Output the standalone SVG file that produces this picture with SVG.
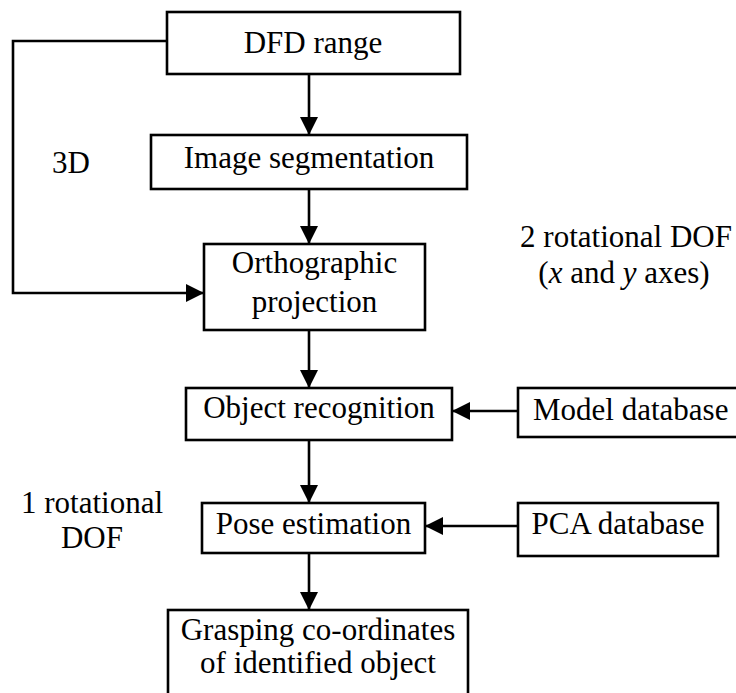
<svg xmlns="http://www.w3.org/2000/svg" width="736" height="693" viewBox="0 0 736 693">
<style>
  .box { fill: #ffffff; stroke: #000000; stroke-width: 2.6; }
  .t { font-family: 'Liberation Serif', Tinos, 'Times New Roman', Times, 'DejaVu Serif', serif; font-size: 31px; fill: #000000; }
  .c { text-anchor: middle; }
  .line { fill: none; stroke: #000000; stroke-width: 2.6; }
</style>
<defs>
  <marker id="arr" markerUnits="userSpaceOnUse" markerWidth="18" markerHeight="18" refX="18" refY="9" orient="auto">
    <path d="M0,0 L18,9 L0,18 Z" fill="#000000"/>
  </marker>
</defs>
<rect width="736" height="693" fill="#ffffff"/>

<g id="connectors">
  <path class="line" d="M167,41 H13 V293 H204" marker-end="url(#arr)"/>
  <path class="line" d="M309,74 V135" marker-end="url(#arr)"/>
  <path class="line" d="M309,189 V244" marker-end="url(#arr)"/>
  <path class="line" d="M309,330 V388" marker-end="url(#arr)"/>
  <path class="line" d="M518,411 H452" marker-end="url(#arr)"/>
  <path class="line" d="M309,440 V503" marker-end="url(#arr)"/>
  <path class="line" d="M518,526 H425" marker-end="url(#arr)"/>
  <path class="line" d="M309,553 V610" marker-end="url(#arr)"/>
</g>

<g id="dfd-range">
  <rect class="box" x="167" y="12" width="293" height="62"/>
  <text class="t c" x="313" y="53" font-family="Liberation Serif, serif">DFD range</text>
</g>
<g id="image-segmentation">
  <rect class="box" x="151" y="135" width="316" height="54"/>
  <text class="t c" x="309" y="168">Image segmentation</text>
</g>
<g id="orthographic-projection">
  <rect class="box" x="204" y="244" width="221" height="86"/>
  <text class="t c" x="314.5" y="273">Orthographic</text>
  <text class="t c" x="314.5" y="312">projection</text>
</g>
<g id="object-recognition">
  <rect class="box" x="186" y="388" width="266" height="52"/>
  <text class="t c" x="319" y="418">Object recognition</text>
</g>
<g id="model-database">
  <rect class="box" x="518" y="388" width="230" height="49"/>
  <text class="t" x="533" y="420">Model database</text>
</g>
<g id="pose-estimation">
  <rect class="box" x="202" y="503" width="223" height="50"/>
  <text class="t c" x="313.5" y="534">Pose estimation</text>
</g>
<g id="pca-database">
  <rect class="box" x="518" y="503" width="200" height="53"/>
  <text class="t c" x="618" y="534">PCA database</text>
</g>
<g id="grasping-coordinates">
  <rect class="box" x="168" y="610" width="300" height="100"/>
  <text class="t c" x="318" y="640">Grasping co-ordinates</text>
  <text class="t c" x="318" y="673">of identified object</text>
</g>

<g id="labels">
  <text class="t" x="52" y="173">3D</text>
  <text class="t c" x="626" y="247">2 rotational DOF</text>
  <text class="t c" x="624" y="283">(<tspan font-style="italic">x</tspan> and <tspan font-style="italic">y</tspan> axes)</text>
  <text class="t c" x="92" y="513">1 rotational</text>
  <text class="t c" x="92" y="548">DOF</text>
</g>
</svg>
